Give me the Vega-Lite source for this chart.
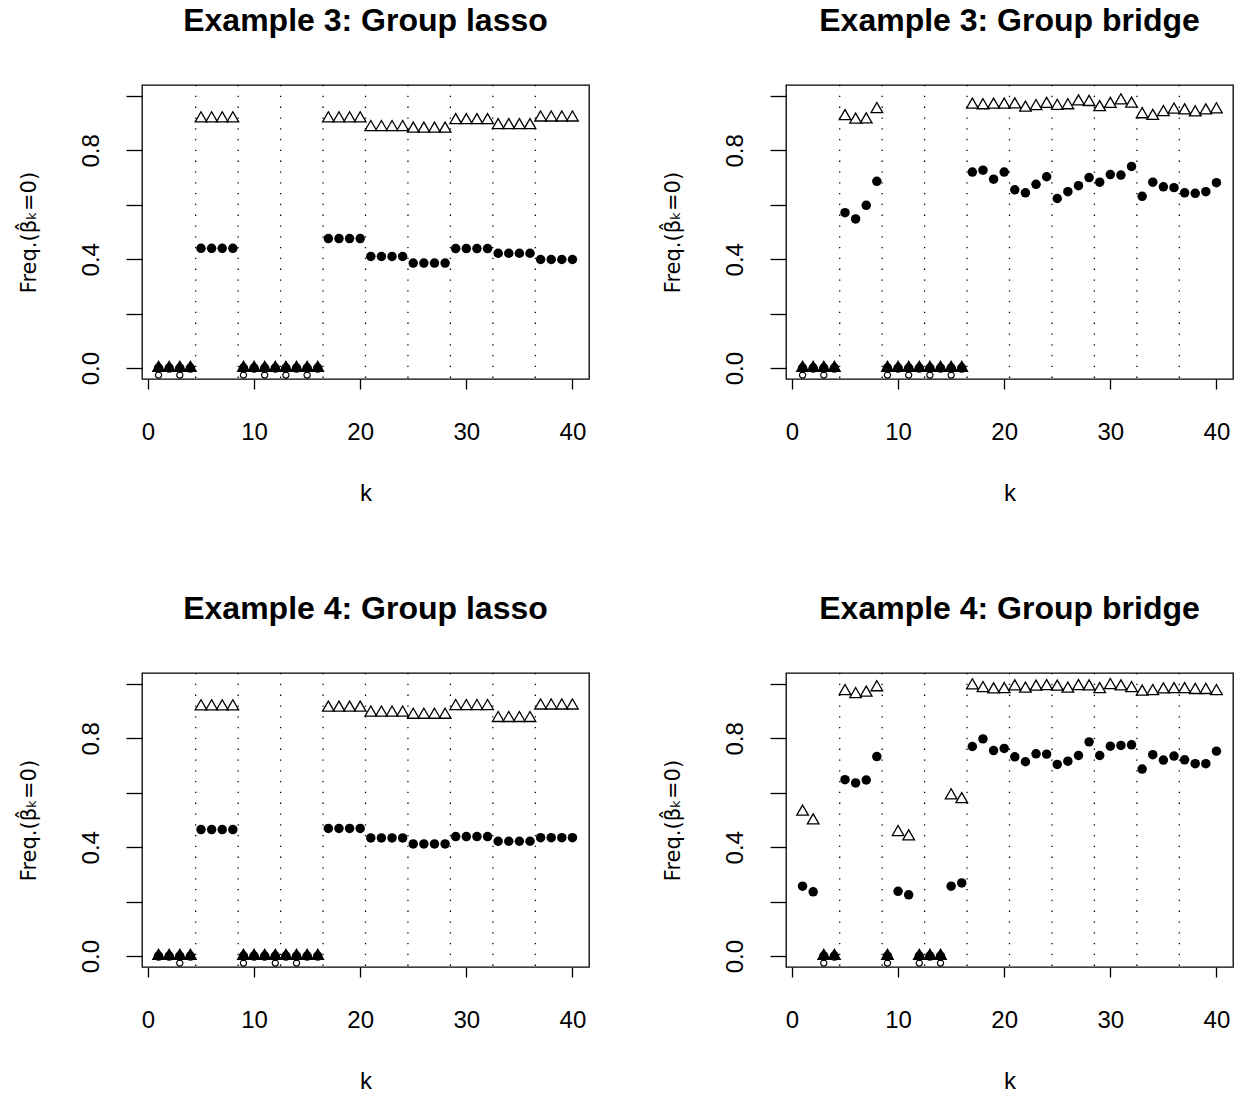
{
  "$schema": "https://vega.github.io/schema/vega-lite/v6.json",
  "background": "white",
  "padding": {"left": 17, "top": 4, "right": 5, "bottom": 5},
  "bounds": "flush",
  "columns": 2,
  "spacing": {"row": 294, "column": 197},
  "config": {
    "font": "Liberation Sans",
    "view": {"stroke": "black", "strokeWidth": 1.3, "fill": "white"},
    "title": {"fontSize": 32, "fontWeight": "bold", "font": "Liberation Sans", "color": "black", "anchor": "middle", "baseline": "alphabetic", "offset": 46},
    "axisX": {"domain": false, "grid": false, "tickSize": 10, "tickWidth": 1.3, "tickColor": "black", "labelFontSize": 24, "labelColor": "black", "labelPadding": 31, "labelFont": "Liberation Sans", "titleFont": "Liberation Sans", "titleFontSize": 24, "titleFontWeight": "normal", "titleColor": "black", "titlePadding": 37, "labelFlush": false},
    "axisY": {"labelExpr": "datum.value == 0 ? '0.0' : (abs(datum.value - 0.4) < 0.001 ? '0.4' : (abs(datum.value - 0.8) < 0.001 ? '0.8' : ''))", "domain": false, "grid": false, "tickSize": 16, "tickWidth": 1.3, "tickColor": "black", "labelFontSize": 24, "labelColor": "black", "labelPadding": 28, "labelAngle": 270, "labelAlign": "center", "labelBaseline": "alphabetic", "labelFont": "Liberation Sans", "titleFont": "DejaVu Sans", "titleFontSize": 21, "titleFontWeight": "normal", "titleColor": "black", "titlePadding": 40, "labelFlush": false, "labelOverlap": false}
  },
  "datasets": {
    "vl": [{"x": 4.5}, {"x": 8.5}, {"x": 12.5}, {"x": 16.5}, {"x": 20.5}, {"x": 24.5}, {"x": 28.5}, {"x": 32.5}, {"x": 36.5}],
    "pts": [
      {"p":"A","k":1,"s":"c","v":0},{"p":"A","k":2,"s":"c","v":0},{"p":"A","k":3,"s":"c","v":0},{"p":"A","k":4,"s":"c","v":0},
      {"p":"A","k":5,"s":"c","v":0.44},{"p":"A","k":6,"s":"c","v":0.44},{"p":"A","k":7,"s":"c","v":0.44},{"p":"A","k":8,"s":"c","v":0.44},
      {"p":"A","k":9,"s":"c","v":0},{"p":"A","k":10,"s":"c","v":0},{"p":"A","k":11,"s":"c","v":0},{"p":"A","k":12,"s":"c","v":0},
      {"p":"A","k":13,"s":"c","v":0},{"p":"A","k":14,"s":"c","v":0},{"p":"A","k":15,"s":"c","v":0},{"p":"A","k":16,"s":"c","v":0},
      {"p":"A","k":17,"s":"c","v":0.476},{"p":"A","k":18,"s":"c","v":0.476},{"p":"A","k":19,"s":"c","v":0.476},{"p":"A","k":20,"s":"c","v":0.476},
      {"p":"A","k":21,"s":"c","v":0.41},{"p":"A","k":22,"s":"c","v":0.41},{"p":"A","k":23,"s":"c","v":0.41},{"p":"A","k":24,"s":"c","v":0.41},
      {"p":"A","k":25,"s":"c","v":0.386},{"p":"A","k":26,"s":"c","v":0.386},{"p":"A","k":27,"s":"c","v":0.386},{"p":"A","k":28,"s":"c","v":0.386},
      {"p":"A","k":29,"s":"c","v":0.439},{"p":"A","k":30,"s":"c","v":0.439},{"p":"A","k":31,"s":"c","v":0.439},{"p":"A","k":32,"s":"c","v":0.439},
      {"p":"A","k":33,"s":"c","v":0.422},{"p":"A","k":34,"s":"c","v":0.422},{"p":"A","k":35,"s":"c","v":0.422},{"p":"A","k":36,"s":"c","v":0.422},
      {"p":"A","k":37,"s":"c","v":0.399},{"p":"A","k":38,"s":"c","v":0.399},{"p":"A","k":39,"s":"c","v":0.399},{"p":"A","k":40,"s":"c","v":0.399},
      {"p":"A","k":1,"s":"t","v":0},{"p":"A","k":2,"s":"t","v":0},{"p":"A","k":3,"s":"t","v":0},{"p":"A","k":4,"s":"t","v":0},
      {"p":"A","k":5,"s":"t","v":0.917},{"p":"A","k":6,"s":"t","v":0.917},{"p":"A","k":7,"s":"t","v":0.917},{"p":"A","k":8,"s":"t","v":0.917},
      {"p":"A","k":9,"s":"t","v":0},{"p":"A","k":10,"s":"t","v":0},{"p":"A","k":11,"s":"t","v":0},{"p":"A","k":12,"s":"t","v":0},
      {"p":"A","k":13,"s":"t","v":0},{"p":"A","k":14,"s":"t","v":0},{"p":"A","k":15,"s":"t","v":0},{"p":"A","k":16,"s":"t","v":0},
      {"p":"A","k":17,"s":"t","v":0.917},{"p":"A","k":18,"s":"t","v":0.917},{"p":"A","k":19,"s":"t","v":0.917},{"p":"A","k":20,"s":"t","v":0.917},
      {"p":"A","k":21,"s":"t","v":0.885},{"p":"A","k":22,"s":"t","v":0.885},{"p":"A","k":23,"s":"t","v":0.885},{"p":"A","k":24,"s":"t","v":0.885},
      {"p":"A","k":25,"s":"t","v":0.879},{"p":"A","k":26,"s":"t","v":0.879},{"p":"A","k":27,"s":"t","v":0.879},{"p":"A","k":28,"s":"t","v":0.879},
      {"p":"A","k":29,"s":"t","v":0.91},{"p":"A","k":30,"s":"t","v":0.91},{"p":"A","k":31,"s":"t","v":0.91},{"p":"A","k":32,"s":"t","v":0.91},
      {"p":"A","k":33,"s":"t","v":0.892},{"p":"A","k":34,"s":"t","v":0.892},{"p":"A","k":35,"s":"t","v":0.892},{"p":"A","k":36,"s":"t","v":0.892},
      {"p":"A","k":37,"s":"t","v":0.92},{"p":"A","k":38,"s":"t","v":0.92},{"p":"A","k":39,"s":"t","v":0.92},{"p":"A","k":40,"s":"t","v":0.92},
      {"p":"A","k":1,"s":"o","v":0},{"p":"A","k":3,"s":"o","v":0},{"p":"A","k":9,"s":"o","v":0},{"p":"A","k":11,"s":"o","v":0},{"p":"A","k":13,"s":"o","v":0},{"p":"A","k":15,"s":"o","v":0},

      {"p":"B","k":1,"s":"c","v":0},{"p":"B","k":2,"s":"c","v":0},{"p":"B","k":3,"s":"c","v":0},{"p":"B","k":4,"s":"c","v":0},
      {"p":"B","k":5,"s":"c","v":0.571},{"p":"B","k":6,"s":"c","v":0.548},{"p":"B","k":7,"s":"c","v":0.598},{"p":"B","k":8,"s":"c","v":0.686},
      {"p":"B","k":9,"s":"c","v":0},{"p":"B","k":10,"s":"c","v":0},{"p":"B","k":11,"s":"c","v":0},{"p":"B","k":12,"s":"c","v":0},
      {"p":"B","k":13,"s":"c","v":0},{"p":"B","k":14,"s":"c","v":0},{"p":"B","k":15,"s":"c","v":0},{"p":"B","k":16,"s":"c","v":0},
      {"p":"B","k":17,"s":"c","v":0.72},{"p":"B","k":18,"s":"c","v":0.727},{"p":"B","k":19,"s":"c","v":0.694},{"p":"B","k":20,"s":"c","v":0.72},
      {"p":"B","k":21,"s":"c","v":0.655},{"p":"B","k":22,"s":"c","v":0.644},{"p":"B","k":23,"s":"c","v":0.675},{"p":"B","k":24,"s":"c","v":0.703},
      {"p":"B","k":25,"s":"c","v":0.623},{"p":"B","k":26,"s":"c","v":0.648},{"p":"B","k":27,"s":"c","v":0.67},{"p":"B","k":28,"s":"c","v":0.7},
      {"p":"B","k":29,"s":"c","v":0.683},{"p":"B","k":30,"s":"c","v":0.711},{"p":"B","k":31,"s":"c","v":0.709},{"p":"B","k":32,"s":"c","v":0.741},
      {"p":"B","k":33,"s":"c","v":0.631},{"p":"B","k":34,"s":"c","v":0.683},{"p":"B","k":35,"s":"c","v":0.666},{"p":"B","k":36,"s":"c","v":0.663},
      {"p":"B","k":37,"s":"c","v":0.644},{"p":"B","k":38,"s":"c","v":0.642},{"p":"B","k":39,"s":"c","v":0.648},{"p":"B","k":40,"s":"c","v":0.681},
      {"p":"B","k":1,"s":"t","v":0},{"p":"B","k":2,"s":"t","v":0},{"p":"B","k":3,"s":"t","v":0},{"p":"B","k":4,"s":"t","v":0},
      {"p":"B","k":5,"s":"t","v":0.925},{"p":"B","k":6,"s":"t","v":0.912},{"p":"B","k":7,"s":"t","v":0.913},{"p":"B","k":8,"s":"t","v":0.951},
      {"p":"B","k":9,"s":"t","v":0},{"p":"B","k":10,"s":"t","v":0},{"p":"B","k":11,"s":"t","v":0},{"p":"B","k":12,"s":"t","v":0},
      {"p":"B","k":13,"s":"t","v":0},{"p":"B","k":14,"s":"t","v":0},{"p":"B","k":15,"s":"t","v":0},{"p":"B","k":16,"s":"t","v":0},
      {"p":"B","k":17,"s":"t","v":0.967},{"p":"B","k":18,"s":"t","v":0.965},{"p":"B","k":19,"s":"t","v":0.967},{"p":"B","k":20,"s":"t","v":0.967},
      {"p":"B","k":21,"s":"t","v":0.968},{"p":"B","k":22,"s":"t","v":0.956},{"p":"B","k":23,"s":"t","v":0.962},{"p":"B","k":24,"s":"t","v":0.97},
      {"p":"B","k":25,"s":"t","v":0.963},{"p":"B","k":26,"s":"t","v":0.965},{"p":"B","k":27,"s":"t","v":0.979},{"p":"B","k":28,"s":"t","v":0.977},
      {"p":"B","k":29,"s":"t","v":0.958},{"p":"B","k":30,"s":"t","v":0.97},{"p":"B","k":31,"s":"t","v":0.983},{"p":"B","k":32,"s":"t","v":0.971},
      {"p":"B","k":33,"s":"t","v":0.932},{"p":"B","k":34,"s":"t","v":0.926},{"p":"B","k":35,"s":"t","v":0.94},{"p":"B","k":36,"s":"t","v":0.949},
      {"p":"B","k":37,"s":"t","v":0.946},{"p":"B","k":38,"s":"t","v":0.939},{"p":"B","k":39,"s":"t","v":0.946},{"p":"B","k":40,"s":"t","v":0.95},
      {"p":"B","k":1,"s":"o","v":0},{"p":"B","k":3,"s":"o","v":0},{"p":"B","k":9,"s":"o","v":0},{"p":"B","k":11,"s":"o","v":0},{"p":"B","k":13,"s":"o","v":0},{"p":"B","k":15,"s":"o","v":0},

      {"p":"C","k":1,"s":"c","v":0},{"p":"C","k":2,"s":"c","v":0},{"p":"C","k":3,"s":"c","v":0},{"p":"C","k":4,"s":"c","v":0},
      {"p":"C","k":5,"s":"c","v":0.465},{"p":"C","k":6,"s":"c","v":0.465},{"p":"C","k":7,"s":"c","v":0.465},{"p":"C","k":8,"s":"c","v":0.465},
      {"p":"C","k":9,"s":"c","v":0},{"p":"C","k":10,"s":"c","v":0},{"p":"C","k":11,"s":"c","v":0},{"p":"C","k":12,"s":"c","v":0},
      {"p":"C","k":13,"s":"c","v":0},{"p":"C","k":14,"s":"c","v":0},{"p":"C","k":15,"s":"c","v":0},{"p":"C","k":16,"s":"c","v":0},
      {"p":"C","k":17,"s":"c","v":0.469},{"p":"C","k":18,"s":"c","v":0.469},{"p":"C","k":19,"s":"c","v":0.469},{"p":"C","k":20,"s":"c","v":0.469},
      {"p":"C","k":21,"s":"c","v":0.434},{"p":"C","k":22,"s":"c","v":0.434},{"p":"C","k":23,"s":"c","v":0.434},{"p":"C","k":24,"s":"c","v":0.434},
      {"p":"C","k":25,"s":"c","v":0.412},{"p":"C","k":26,"s":"c","v":0.412},{"p":"C","k":27,"s":"c","v":0.412},{"p":"C","k":28,"s":"c","v":0.412},
      {"p":"C","k":29,"s":"c","v":0.439},{"p":"C","k":30,"s":"c","v":0.439},{"p":"C","k":31,"s":"c","v":0.439},{"p":"C","k":32,"s":"c","v":0.439},
      {"p":"C","k":33,"s":"c","v":0.422},{"p":"C","k":34,"s":"c","v":0.422},{"p":"C","k":35,"s":"c","v":0.422},{"p":"C","k":36,"s":"c","v":0.422},
      {"p":"C","k":37,"s":"c","v":0.435},{"p":"C","k":38,"s":"c","v":0.435},{"p":"C","k":39,"s":"c","v":0.435},{"p":"C","k":40,"s":"c","v":0.435},
      {"p":"C","k":1,"s":"t","v":0},{"p":"C","k":2,"s":"t","v":0},{"p":"C","k":3,"s":"t","v":0},{"p":"C","k":4,"s":"t","v":0},
      {"p":"C","k":5,"s":"t","v":0.917},{"p":"C","k":6,"s":"t","v":0.917},{"p":"C","k":7,"s":"t","v":0.917},{"p":"C","k":8,"s":"t","v":0.917},
      {"p":"C","k":9,"s":"t","v":0},{"p":"C","k":10,"s":"t","v":0},{"p":"C","k":11,"s":"t","v":0},{"p":"C","k":12,"s":"t","v":0},
      {"p":"C","k":13,"s":"t","v":0},{"p":"C","k":14,"s":"t","v":0},{"p":"C","k":15,"s":"t","v":0},{"p":"C","k":16,"s":"t","v":0},
      {"p":"C","k":17,"s":"t","v":0.912},{"p":"C","k":18,"s":"t","v":0.912},{"p":"C","k":19,"s":"t","v":0.912},{"p":"C","k":20,"s":"t","v":0.912},
      {"p":"C","k":21,"s":"t","v":0.894},{"p":"C","k":22,"s":"t","v":0.894},{"p":"C","k":23,"s":"t","v":0.894},{"p":"C","k":24,"s":"t","v":0.894},
      {"p":"C","k":25,"s":"t","v":0.886},{"p":"C","k":26,"s":"t","v":0.886},{"p":"C","k":27,"s":"t","v":0.886},{"p":"C","k":28,"s":"t","v":0.886},
      {"p":"C","k":29,"s":"t","v":0.918},{"p":"C","k":30,"s":"t","v":0.918},{"p":"C","k":31,"s":"t","v":0.918},{"p":"C","k":32,"s":"t","v":0.918},
      {"p":"C","k":33,"s":"t","v":0.874},{"p":"C","k":34,"s":"t","v":0.874},{"p":"C","k":35,"s":"t","v":0.874},{"p":"C","k":36,"s":"t","v":0.874},
      {"p":"C","k":37,"s":"t","v":0.92},{"p":"C","k":38,"s":"t","v":0.92},{"p":"C","k":39,"s":"t","v":0.92},{"p":"C","k":40,"s":"t","v":0.92},
      {"p":"C","k":3,"s":"o","v":0},{"p":"C","k":9,"s":"o","v":0},{"p":"C","k":12,"s":"o","v":0},{"p":"C","k":14,"s":"o","v":0},

      {"p":"D","k":1,"s":"c","v":0.257},{"p":"D","k":2,"s":"c","v":0.236},{"p":"D","k":3,"s":"c","v":0},{"p":"D","k":4,"s":"c","v":0},
      {"p":"D","k":5,"s":"c","v":0.648},{"p":"D","k":6,"s":"c","v":0.636},{"p":"D","k":7,"s":"c","v":0.647},{"p":"D","k":8,"s":"c","v":0.733},
      {"p":"D","k":9,"s":"c","v":0},{"p":"D","k":10,"s":"c","v":0.238},{"p":"D","k":11,"s":"c","v":0.225},{"p":"D","k":12,"s":"c","v":0},
      {"p":"D","k":13,"s":"c","v":0},{"p":"D","k":14,"s":"c","v":0},{"p":"D","k":15,"s":"c","v":0.257},{"p":"D","k":16,"s":"c","v":0.269},
      {"p":"D","k":17,"s":"c","v":0.77},{"p":"D","k":18,"s":"c","v":0.798},{"p":"D","k":19,"s":"c","v":0.755},{"p":"D","k":20,"s":"c","v":0.763},
      {"p":"D","k":21,"s":"c","v":0.732},{"p":"D","k":22,"s":"c","v":0.714},{"p":"D","k":23,"s":"c","v":0.743},{"p":"D","k":24,"s":"c","v":0.742},
      {"p":"D","k":25,"s":"c","v":0.704},{"p":"D","k":26,"s":"c","v":0.716},{"p":"D","k":27,"s":"c","v":0.737},{"p":"D","k":28,"s":"c","v":0.787},
      {"p":"D","k":29,"s":"c","v":0.737},{"p":"D","k":30,"s":"c","v":0.771},{"p":"D","k":31,"s":"c","v":0.774},{"p":"D","k":32,"s":"c","v":0.776},
      {"p":"D","k":33,"s":"c","v":0.687},{"p":"D","k":34,"s":"c","v":0.74},{"p":"D","k":35,"s":"c","v":0.72},{"p":"D","k":36,"s":"c","v":0.735},
      {"p":"D","k":37,"s":"c","v":0.721},{"p":"D","k":38,"s":"c","v":0.707},{"p":"D","k":39,"s":"c","v":0.707},{"p":"D","k":40,"s":"c","v":0.753},
      {"p":"D","k":1,"s":"t","v":0.53},{"p":"D","k":2,"s":"t","v":0.498},{"p":"D","k":3,"s":"t","v":0},{"p":"D","k":4,"s":"t","v":0},
      {"p":"D","k":5,"s":"t","v":0.973},{"p":"D","k":6,"s":"t","v":0.962},{"p":"D","k":7,"s":"t","v":0.967},{"p":"D","k":8,"s":"t","v":0.987},
      {"p":"D","k":9,"s":"t","v":0},{"p":"D","k":10,"s":"t","v":0.455},{"p":"D","k":11,"s":"t","v":0.439},{"p":"D","k":12,"s":"t","v":0},
      {"p":"D","k":13,"s":"t","v":0},{"p":"D","k":14,"s":"t","v":0},{"p":"D","k":15,"s":"t","v":0.59},{"p":"D","k":16,"s":"t","v":0.576},
      {"p":"D","k":17,"s":"t","v":0.994},{"p":"D","k":18,"s":"t","v":0.984},{"p":"D","k":19,"s":"t","v":0.979},{"p":"D","k":20,"s":"t","v":0.98},
      {"p":"D","k":21,"s":"t","v":0.99},{"p":"D","k":22,"s":"t","v":0.982},{"p":"D","k":23,"s":"t","v":0.989},{"p":"D","k":24,"s":"t","v":0.991},
      {"p":"D","k":25,"s":"t","v":0.989},{"p":"D","k":26,"s":"t","v":0.982},{"p":"D","k":27,"s":"t","v":0.991},{"p":"D","k":28,"s":"t","v":0.99},
      {"p":"D","k":29,"s":"t","v":0.98},{"p":"D","k":30,"s":"t","v":0.995},{"p":"D","k":31,"s":"t","v":0.99},{"p":"D","k":32,"s":"t","v":0.984},
      {"p":"D","k":33,"s":"t","v":0.971},{"p":"D","k":34,"s":"t","v":0.973},{"p":"D","k":35,"s":"t","v":0.979},{"p":"D","k":36,"s":"t","v":0.98},
      {"p":"D","k":37,"s":"t","v":0.98},{"p":"D","k":38,"s":"t","v":0.977},{"p":"D","k":39,"s":"t","v":0.977},{"p":"D","k":40,"s":"t","v":0.973},
      {"p":"D","k":3,"s":"o","v":0},{"p":"D","k":9,"s":"o","v":0},{"p":"D","k":12,"s":"o","v":0},{"p":"D","k":14,"s":"o","v":0}
    ]
  },
  "concat": [
    {
      "title": "Example 3: Group lasso",
      "width": 447, "height": 294,
      "layer": [
        {"data": {"name": "vl"}, "mark": {"type": "rule", "color": "black", "strokeWidth": 1.3, "strokeDash": [1.3, 9.5]},
         "encoding": {"x": {"field": "x", "type": "quantitative", "scale": {"domain": [-0.56, 41.56], "nice": false, "zero": false}, "axis": {"values": [0, 10, 20, 30, 40]}, "title": "k"}}},
        {"data": {"name": "pts"}, "transform": [{"filter": "datum.p == 'A' && datum.s == 'o'"}],
         "mark": {"type": "point", "shape": "circle", "size": 38, "filled": false, "stroke": "black", "strokeWidth": 1.2, "opacity": 1, "yOffset": 7, "clip": true},
         "encoding": {"x": {"field": "k", "type": "quantitative"}, "y": {"field": "v", "type": "quantitative", "scale": {"domain": [-0.04, 1.04], "nice": false, "zero": false}, "axis": {"values": [0, 0.2, 0.4, 0.6, 0.8, 1.0]}, "title": "Freq.(β̂ₖ=0)"}}},
        {"data": {"name": "pts"}, "transform": [{"filter": "datum.p == 'A' && datum.s == 'c'"}],
         "mark": {"type": "point", "shape": "circle", "size": 90, "filled": true, "color": "black", "opacity": 1},
         "encoding": {"x": {"field": "k", "type": "quantitative"}, "y": {"field": "v", "type": "quantitative"}}},
        {"data": {"name": "pts"}, "transform": [{"filter": "datum.p == 'A' && datum.s == 't'"}],
         "mark": {"type": "point", "shape": "triangle-up", "size": 135, "stroke": "black", "strokeWidth": 1.3, "opacity": 1, "fillOpacity": 1, "yOffset": -1.7},
         "encoding": {"x": {"field": "k", "type": "quantitative"}, "y": {"field": "v", "type": "quantitative"},
           "fill": {"condition": {"test": "datum.v == 0", "value": "black"}, "value": "transparent"}}}
      ]
    },
    {
      "title": "Example 3: Group bridge",
      "width": 447, "height": 294,
      "layer": [
        {"data": {"name": "vl"}, "mark": {"type": "rule", "color": "black", "strokeWidth": 1.3, "strokeDash": [1.3, 9.5]},
         "encoding": {"x": {"field": "x", "type": "quantitative", "scale": {"domain": [-0.56, 41.56], "nice": false, "zero": false}, "axis": {"values": [0, 10, 20, 30, 40]}, "title": "k"}}},
        {"data": {"name": "pts"}, "transform": [{"filter": "datum.p == 'B' && datum.s == 'o'"}],
         "mark": {"type": "point", "shape": "circle", "size": 38, "filled": false, "stroke": "black", "strokeWidth": 1.2, "opacity": 1, "yOffset": 7, "clip": true},
         "encoding": {"x": {"field": "k", "type": "quantitative"}, "y": {"field": "v", "type": "quantitative", "scale": {"domain": [-0.04, 1.04], "nice": false, "zero": false}, "axis": {"values": [0, 0.2, 0.4, 0.6, 0.8, 1.0]}, "title": "Freq.(β̂ₖ=0)"}}},
        {"data": {"name": "pts"}, "transform": [{"filter": "datum.p == 'B' && datum.s == 'c'"}],
         "mark": {"type": "point", "shape": "circle", "size": 90, "filled": true, "color": "black", "opacity": 1},
         "encoding": {"x": {"field": "k", "type": "quantitative"}, "y": {"field": "v", "type": "quantitative"}}},
        {"data": {"name": "pts"}, "transform": [{"filter": "datum.p == 'B' && datum.s == 't'"}],
         "mark": {"type": "point", "shape": "triangle-up", "size": 135, "stroke": "black", "strokeWidth": 1.3, "opacity": 1, "fillOpacity": 1, "yOffset": -1.7},
         "encoding": {"x": {"field": "k", "type": "quantitative"}, "y": {"field": "v", "type": "quantitative"},
           "fill": {"condition": {"test": "datum.v == 0", "value": "black"}, "value": "transparent"}}}
      ]
    },
    {
      "title": "Example 4: Group lasso",
      "width": 447, "height": 294,
      "layer": [
        {"data": {"name": "vl"}, "mark": {"type": "rule", "color": "black", "strokeWidth": 1.3, "strokeDash": [1.3, 9.5]},
         "encoding": {"x": {"field": "x", "type": "quantitative", "scale": {"domain": [-0.56, 41.56], "nice": false, "zero": false}, "axis": {"values": [0, 10, 20, 30, 40]}, "title": "k"}}},
        {"data": {"name": "pts"}, "transform": [{"filter": "datum.p == 'C' && datum.s == 'o'"}],
         "mark": {"type": "point", "shape": "circle", "size": 38, "filled": false, "stroke": "black", "strokeWidth": 1.2, "opacity": 1, "yOffset": 7, "clip": true},
         "encoding": {"x": {"field": "k", "type": "quantitative"}, "y": {"field": "v", "type": "quantitative", "scale": {"domain": [-0.04, 1.04], "nice": false, "zero": false}, "axis": {"values": [0, 0.2, 0.4, 0.6, 0.8, 1.0]}, "title": "Freq.(β̂ₖ=0)"}}},
        {"data": {"name": "pts"}, "transform": [{"filter": "datum.p == 'C' && datum.s == 'c'"}],
         "mark": {"type": "point", "shape": "circle", "size": 90, "filled": true, "color": "black", "opacity": 1},
         "encoding": {"x": {"field": "k", "type": "quantitative"}, "y": {"field": "v", "type": "quantitative"}}},
        {"data": {"name": "pts"}, "transform": [{"filter": "datum.p == 'C' && datum.s == 't'"}],
         "mark": {"type": "point", "shape": "triangle-up", "size": 135, "stroke": "black", "strokeWidth": 1.3, "opacity": 1, "fillOpacity": 1, "yOffset": -1.7},
         "encoding": {"x": {"field": "k", "type": "quantitative"}, "y": {"field": "v", "type": "quantitative"},
           "fill": {"condition": {"test": "datum.v == 0", "value": "black"}, "value": "transparent"}}}
      ]
    },
    {
      "title": "Example 4: Group bridge",
      "width": 447, "height": 294,
      "layer": [
        {"data": {"name": "vl"}, "mark": {"type": "rule", "color": "black", "strokeWidth": 1.3, "strokeDash": [1.3, 9.5]},
         "encoding": {"x": {"field": "x", "type": "quantitative", "scale": {"domain": [-0.56, 41.56], "nice": false, "zero": false}, "axis": {"values": [0, 10, 20, 30, 40]}, "title": "k"}}},
        {"data": {"name": "pts"}, "transform": [{"filter": "datum.p == 'D' && datum.s == 'o'"}],
         "mark": {"type": "point", "shape": "circle", "size": 38, "filled": false, "stroke": "black", "strokeWidth": 1.2, "opacity": 1, "yOffset": 7, "clip": true},
         "encoding": {"x": {"field": "k", "type": "quantitative"}, "y": {"field": "v", "type": "quantitative", "scale": {"domain": [-0.04, 1.04], "nice": false, "zero": false}, "axis": {"values": [0, 0.2, 0.4, 0.6, 0.8, 1.0]}, "title": "Freq.(β̂ₖ=0)"}}},
        {"data": {"name": "pts"}, "transform": [{"filter": "datum.p == 'D' && datum.s == 'c'"}],
         "mark": {"type": "point", "shape": "circle", "size": 90, "filled": true, "color": "black", "opacity": 1},
         "encoding": {"x": {"field": "k", "type": "quantitative"}, "y": {"field": "v", "type": "quantitative"}}},
        {"data": {"name": "pts"}, "transform": [{"filter": "datum.p == 'D' && datum.s == 't'"}],
         "mark": {"type": "point", "shape": "triangle-up", "size": 135, "stroke": "black", "strokeWidth": 1.3, "opacity": 1, "fillOpacity": 1, "yOffset": -1.7},
         "encoding": {"x": {"field": "k", "type": "quantitative"}, "y": {"field": "v", "type": "quantitative"},
           "fill": {"condition": {"test": "datum.v == 0", "value": "black"}, "value": "transparent"}}}
      ]
    }
  ]
}
